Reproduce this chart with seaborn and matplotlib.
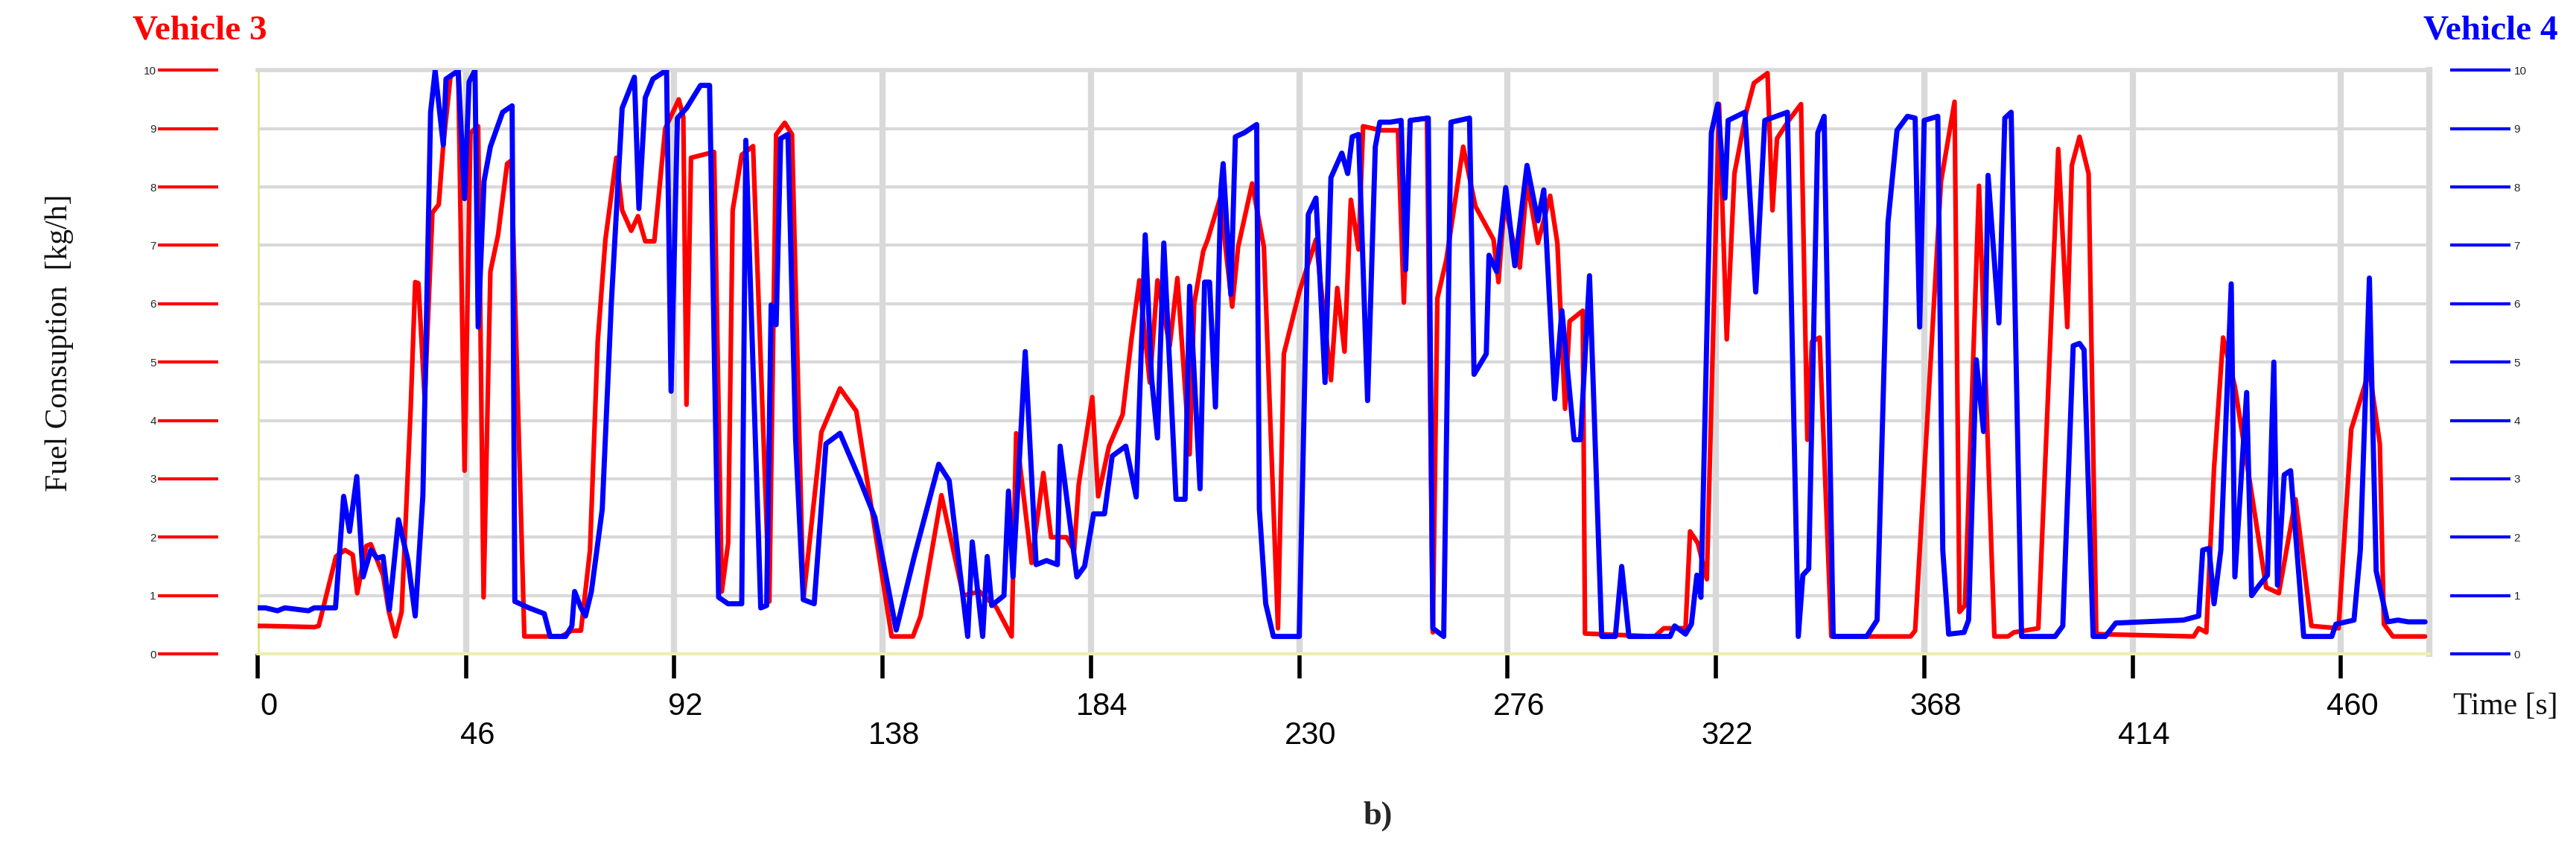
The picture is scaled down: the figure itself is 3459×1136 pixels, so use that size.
import matplotlib
matplotlib.use("Agg")
import matplotlib.pyplot as plt
import seaborn as sns
import pandas as pd

# Vehicle 3 (red, left axis)
v3_t = [0, 1.7, 12.5, 13.5, 17.3, 19.3, 21, 22, 24, 25, 27.7, 29, 30.4, 31.8, 33.8, 34.8, 35.5, 36.9,
        38.6, 40, 41, 42.6, 44.3, 45.7, 47, 48.7, 49.9, 51.4, 53.1, 55.1, 56, 58.9, 67, 69.4, 71.4,
        73.4, 75.1, 76.8, 79.2, 80.5, 82.5, 84, 85.6, 87.6, 90, 93, 94, 94.7, 95.7, 100.8, 102.5,
        103.9, 104.9, 106.9, 109.4, 113, 114.5, 116.4, 118, 120.5, 124.5, 128.6, 132.2, 135.6, 140,
        144.7, 146.4, 151, 155.8, 159.4, 163.1, 166.5, 167.5, 170.9, 173.5, 175.2, 178.6, 180.3,
        181.3, 184.3, 185.6, 188, 191, 193, 194.7, 197, 198.7, 201.4, 203.1, 205.8, 206.8, 208.8,
        209.8, 212.5, 215.2, 216.5, 219.6, 222.2, 225.3, 226.6, 230, 233.7, 237, 238.4, 240, 241.4,
        243.1, 244.1, 248.1, 251.8, 253.1, 254.5, 258.2, 259.5, 260.5, 262.5, 266.2, 268.9, 272.9,
        274, 275.3, 278.7, 280.3, 282.7, 285.4, 287, 288.7, 289.7, 292.6, 293.1, 308.5, 310.5, 315.3,
        316.3, 318, 320, 322.7, 324.4, 326.1, 328.7, 330.4, 333.4, 334.5, 335.5, 338.1, 340.8, 342.2,
        343.2, 344.9, 347.5, 365, 366, 371.7, 374.7, 375.8, 377, 380.1, 383.5, 386.5, 387.8, 393.2,
        397.6, 399.6, 400.6, 402.3, 404.3, 406, 427.5, 428.6, 430.3, 432, 434, 436.6, 440, 443.5,
        446.3, 450, 453.5, 459.5, 462.3, 466.3, 468.6, 469.5, 471.5, 478.6]
v3_fc = [0.48, 0.48, 0.46, 0.48, 1.67, 1.78, 1.7, 1.04, 1.85, 1.88, 1.35, 0.72, 0.3, 0.72, 4.2, 6.37, 6.35, 4.37,
         7.56, 7.7, 8.72, 9.9, 9.99, 3.14, 8.93, 9.04, 0.97, 6.55, 7.18, 8.4, 8.45, 0.3, 0.3, 0.4, 0.4,
         1.78, 5.35, 7.1, 8.5, 7.6, 7.25, 7.5, 7.07, 7.07, 9.0, 9.5, 9.2, 4.27, 8.5, 8.6, 1.07,
         1.9, 7.6, 8.55, 8.7, 0.9, 8.9, 9.1, 8.9, 0.93, 3.8, 4.55, 4.16, 2.48, 0.3,
         0.3, 0.65, 2.72, 1.0, 1.07, 0.8, 0.3, 3.78, 1.56, 3.1, 2.0, 2.0, 1.77,
         2.9, 4.4, 2.7, 3.56, 4.1, 5.42, 6.4, 4.65, 6.4, 5.28, 6.44, 3.42, 6.0, 6.9,
         7.1, 7.8, 5.95, 6.97, 8.06, 6.97, 0.44, 5.14, 6.2, 7.1, 4.69, 6.27, 5.18, 7.78,
         6.93, 9.04, 8.97, 8.97, 6.02, 9.14, 9.18, 0.37, 6.09, 6.76, 8.69, 7.67, 7.1,
         6.37, 7.7, 6.62, 8.09, 7.04, 7.85, 7.04, 4.2, 5.7, 5.88, 0.35, 0.3, 0.44, 0.44,
         2.1, 1.9, 1.28, 9.42, 5.39, 8.23, 9.28, 9.78, 9.95, 7.6, 8.83, 9.14, 9.42, 3.67,
         5.35, 5.42, 0.3, 0.3, 0.4, 8.09, 9.46, 0.72, 0.83, 8.02, 0.3, 0.3, 0.37, 0.44,
         8.65, 5.6, 8.37, 8.86, 8.23, 0.34, 0.3, 0.44, 0.37, 3.18, 5.42, 4.58, 2.9, 1.14,
         1.04, 2.65, 0.48, 0.44, 3.85, 4.86, 3.6, 0.51, 0.3, 0.3]

# Vehicle 4 (blue, right axis)
v4_t = [0, 1.7, 4.4, 6, 11.2, 12.5, 17.2, 19, 20.3, 21.9, 23.3, 25, 26.4, 27.7, 29.1, 31.1, 33.2, 34.8,
        36.5, 38.2, 39.2, 41, 41.6, 44.3, 45.7, 46.7, 48, 48.7, 50, 51.4, 54.1, 56.2, 56.8, 59.9, 63.3,
        64.6, 68, 69.4, 70, 71.4, 72.4, 73.7, 76.1, 78.1, 80.5, 83.2, 84.2, 85.6, 87.3, 90.3, 91.3,
        92.7, 94.7, 97.8, 99.8, 101.8, 103.9, 106.9, 107.8, 111.1, 112.4, 113.4, 114.5, 115.5, 117.1,
        118.8, 120.5, 122.9, 125.5, 128.6, 132.9, 136.3, 141, 145, 150.4, 152.7, 156.8, 157.8, 160.1,
        161.1, 162.1, 164.8, 165.8, 166.8, 169.5, 171.9, 174.2, 176.6, 177.2, 180.9, 182.6, 184.6, 187,
        188.7, 191.7, 194, 196, 197.4, 198.7, 200.1, 202.8, 204.8, 205.8, 208.1, 209.1, 210.2, 211.5,
        212.7, 213.2, 214.9, 215.9, 217.9, 220.6, 221.2, 222.6, 224.3, 230, 232, 233.7, 235.7, 237,
        239.4, 240.7, 241.7, 243.1, 245.1, 246.8, 247.8, 250.1, 252.5, 253.5, 254.5, 258.5, 259.5,
        261.9, 263.5, 267.6, 268.6, 271.3, 271.9, 273.6, 275.6, 277.6, 280.3, 282.7, 284, 286.4, 288,
        290.7, 292.1, 294.1, 296.8, 299.8, 301.2, 302.8, 311.9, 312.9, 315.3, 316.6, 317.8, 318.7,
        321, 322.4, 324, 324.7, 328.4, 330.8, 332.8, 337.8, 340.2, 341.2, 342.5, 344.5, 345.9, 347.9,
        355.3, 357.6, 360, 362, 364.3, 366, 367, 368, 371, 372.1, 373.4, 376.8, 377.8, 379.5, 381.1,
        382.1, 384.5, 385.8, 387.2, 389.5, 396.9, 398.6, 400.9, 402.3, 403.3, 405.3, 408, 410.3,
        425.2, 428.6, 429.5, 430.9, 432, 433.5, 435.8, 436.6, 439.2, 440.3, 442, 443.8, 445.2, 446,
        447.5, 448.9, 451.8, 458, 458.9, 462.9, 464.3, 466.3, 467.8, 470.3, 472.6, 474.9, 478.6]
v4_fc = [0.79, 0.79, 0.74, 0.79, 0.74, 0.79, 0.79, 2.7, 2.1, 3.04, 1.32, 1.78, 1.64, 1.67, 0.76, 2.3, 1.6, 0.65,
         2.72, 9.28, 9.99, 8.72, 9.85, 9.99, 7.8, 9.8, 10.0, 5.6, 8.1, 8.69, 9.28, 9.39, 0.9, 0.79, 0.69,
         0.3, 0.3, 0.48, 1.07, 0.79, 0.65, 1.07, 2.48, 6.0, 9.35, 9.88, 7.63, 9.53, 9.85, 10.0, 4.5,
         9.18, 9.35, 9.74, 9.74, 0.97, 0.86, 0.86, 8.8, 0.79, 0.83, 5.98, 5.64, 8.83, 8.9,
         3.67, 0.93, 0.86, 3.6, 3.78, 3.0, 2.34, 0.41, 1.67, 3.25, 2.97, 0.3, 1.92, 0.3,
         1.67, 0.83, 1.0, 2.79, 1.32, 5.18, 1.53, 1.6, 1.53, 3.56, 1.32, 1.5, 2.4, 2.4,
         3.39, 3.56, 2.69, 7.18, 4.72, 3.7, 7.04, 2.65, 2.65, 6.3, 2.83, 6.37, 6.37, 4.23,
         7.95, 8.4, 6.16, 8.86, 8.93, 9.07, 2.48, 0.86, 0.3, 0.3, 7.53, 7.81, 4.65, 8.16,
         8.58, 8.23, 8.86, 8.9, 4.34, 8.69, 9.11, 9.11, 9.14, 6.58, 9.14, 9.18, 0.44,
         0.3, 9.11, 9.18, 4.79, 5.14, 6.83, 6.55, 7.99, 6.65, 8.37, 7.42, 7.95, 4.37, 5.88,
         3.67, 3.67, 6.48, 0.3, 0.3, 1.5, 0.3, 0.3, 0.48, 0.34, 0.51, 1.35, 0.97,
         8.93, 9.42, 7.81, 9.14, 9.28, 6.2, 9.14, 9.28, 0.3, 1.35, 1.46, 8.93, 9.21, 0.3,
         0.3, 0.58, 7.39, 8.97, 9.21, 9.18, 5.6, 9.14, 9.21, 1.78, 0.34, 0.37, 0.58, 5.04, 3.81,
         8.2, 5.67, 9.18, 9.28, 0.3, 0.3, 0.48, 5.28, 5.32, 5.21, 0.3, 0.3, 0.53,
         0.58, 0.65, 1.78, 1.81, 0.86, 1.78, 6.34, 1.32, 4.48, 1.0, 1.18, 1.35, 5.0, 1.18,
         3.07, 3.14, 0.3, 0.3, 0.51, 0.58, 1.78, 6.44, 1.42, 0.55, 0.58, 0.55, 0.55]

x_ticks = [0, 46, 92, 138, 184, 230, 276, 322, 368, 414, 460]
y_ticks = list(range(0, 11))

sns.set_theme(style="white")
plt.rcParams["font.family"] = ["Liberation Sans", "DejaVu Sans"]

df3 = pd.DataFrame({"t": v3_t, "fc": v3_fc})
df4 = pd.DataFrame({"t": v4_t, "fc": v4_fc})

fig = plt.figure(figsize=(34.59, 11.36), dpi=100)
ax = fig.add_axes([0.100, 0.227, 0.843, 0.690])
ax2 = ax.twinx()

RED = "#ff0000"
BLUE = "#0000ff"
GRID = "#d9d9d9"

sns.lineplot(data=df3, x="t", y="fc", ax=ax, color=RED, linewidth=4.5, estimator=None, sort=False, zorder=3)
sns.lineplot(data=df4, x="t", y="fc", ax=ax2, color=BLUE, linewidth=5, estimator=None, sort=False, zorder=4)

for a in (ax, ax2):
    a.set_xlim(0, 479.5)
    a.set_ylim(0, 10)
    a.set_xlabel("")
    a.set_ylabel("")

# grid
for y in y_ticks:
    ax.axhline(y, color=GRID, lw=3, zorder=0)
for x in x_ticks[1:]:
    ax.axvline(x, color=GRID, lw=6, zorder=0)

# left axis
ax.set_yticks(y_ticks)
ax.set_yticklabels([str(v) for v in y_ticks], color=RED, fontsize=30, fontweight="bold",
                   family=["DejaVu Sans"])
ax.tick_params(axis="y", which="both", left=True, direction="out", length=58, width=3,
               color=RED, pad=2)
ax.spines["left"].set_position(("outward", 38))
ax.spines["left"].set_visible(False)
ax.axvline(0, color="#e6e68a", lw=4, zorder=1)

# right axis
ax2.set_yticks(y_ticks)
ax2.set_yticklabels([str(v) for v in y_ticks], color=BLUE, fontsize=30, fontweight="bold",
                    family=["DejaVu Sans"])
ax2.tick_params(axis="y", which="both", right=True, direction="out", length=58, width=3,
                color=BLUE, pad=4)
ax2.spines["right"].set_position(("outward", 20))
for s in ("right", "left", "top", "bottom"):
    ax2.spines[s].set_visible(False)

# x axis
ax.set_xticks(x_ticks)
ax.set_xticklabels([])
ax.tick_params(axis="x", which="both", bottom=True, direction="out", length=24, width=4, color="black")
for i, xv in enumerate(x_ticks):
    off = -0.065 if i % 2 == 0 else -0.115
    ax.text(xv + 2.5, off, str(xv), transform=ax.get_xaxis_transform(), ha="center", va="top",
            fontsize=30, color="black")

ax.spines["top"].set_color(GRID)
ax.spines["top"].set_linewidth(4)
ax.spines["right"].set_color(GRID)
ax.spines["right"].set_linewidth(6)
ax.spines["bottom"].set_color("#eeeeb0")
ax.spines["bottom"].set_linewidth(3)

serif = ["Liberation Serif", "DejaVu Serif"]
fig.text(0.0515, 0.982, "Vehicle 3", color=RED, fontsize=34, fontweight="bold", family=serif,
         ha="left", va="top")
fig.text(0.993, 0.982, "Vehicle 4", color=BLUE, fontsize=34, fontweight="bold", family=serif,
         ha="right", va="top")
fig.text(0.023, 0.595, "Fuel Consuption  [kg/h]", rotation=90, fontsize=30, family=serif,
         ha="center", va="center", color="#111111")
fig.text(0.993, 0.165, "Time [s]", fontsize=30, family=serif, ha="right", va="center", color="#111111")
fig.text(0.535, 0.035, "b)", fontsize=32, fontweight="bold", family=serif, ha="center", va="center")

fig.savefig("out.png", dpi=100)
